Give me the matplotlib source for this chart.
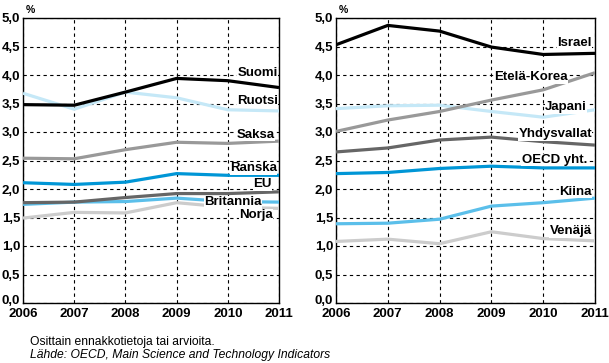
import numpy as np
import matplotlib
matplotlib.use('Agg')
import matplotlib.pyplot as plt
import matplotlib.transforms as mtransforms

plt.rcParams['font.family'] = ['Liberation Sans', 'DejaVu Sans']

years = [2006, 2007, 2008, 2009, 2010, 2011]

# left panel
suomi = [3.48, 3.47, 3.70, 3.94, 3.90, 3.78]
ruotsi = [3.68, 3.40, 3.70, 3.60, 3.39, 3.37]
saksa = [2.54, 2.53, 2.69, 2.82, 2.80, 2.84]
ranska = [2.11, 2.08, 2.12, 2.27, 2.24, 2.24]
eu = [1.76, 1.77, 1.85, 1.92, 1.92, 1.95]
britannia = [1.73, 1.77, 1.78, 1.84, 1.78, 1.77]
norja = [1.49, 1.59, 1.58, 1.76, 1.68, 1.66]

# right panel
israel = [4.53, 4.87, 4.77, 4.49, 4.36, 4.38]
korea = [3.01, 3.21, 3.36, 3.56, 3.74, 4.04]
japani = [3.41, 3.46, 3.47, 3.36, 3.26, 3.39]
usa = [2.65, 2.72, 2.86, 2.91, 2.83, 2.77]
oecd = [2.27, 2.29, 2.36, 2.40, 2.37, 2.37]
kiina = [1.39, 1.40, 1.47, 1.70, 1.76, 1.84]
venaja = [1.08, 1.12, 1.04, 1.25, 1.13, 1.09]

BLACK = '#000000'
LBLUE = '#c5e8f7'
GRAY = '#999999'
BLUE = '#0096d6'
DGRAY = '#666666'
MBLUE = '#5bbfea'
LGRAY = '#cccccc'

# (name, values, colour, label y, label right-edge offset px from axes right)
left_series = [
    ('Ruotsi', ruotsi, LBLUE, 3.54, -1),
    ('Norja', norja, LGRAY, 1.54, -6),
    ('Britannia', britannia, MBLUE, 1.77, -17),
    ('Saksa', saksa, GRAY, 2.95, -4),
    ('EU', eu, DGRAY, 2.08, -7),
    ('Ranska', ranska, BLUE, 2.36, -2),
    ('Suomi', suomi, BLACK, 4.04, -1),
]
right_series = [
    ('Japani', japani, LBLUE, 3.43, -8),
    ('Venäjä', venaja, LGRAY, 1.26, -3),
    ('Etelä-Korea', korea, GRAY, 3.96, -27),
    ('Yhdysvallat', usa, DGRAY, 2.96, -3),
    ('Kiina', kiina, MBLUE, 1.95, -3),
    ('OECD yht.', oecd, BLUE, 2.51, -8),
    ('Israel', israel, BLACK, 4.56, -3),
]

fig = plt.figure(figsize=(6.09, 3.63), dpi=100)
ax1 = fig.add_axes([23 / 609, 1 - 303 / 363, 256 / 609, 285 / 363])
ax2 = fig.add_axes([336 / 609, 1 - 303 / 363, 259 / 609, 285 / 363])

for ax, series in [(ax1, left_series), (ax2, right_series)]:
    for name, vals, col, ly, dx in series:
        ax.plot(years, vals, color=col, lw=2.3, solid_capstyle='butt', zorder=3)
    for name, vals, col, ly, dx in series:
        ax.annotate(name, xy=(1, ly), xycoords=('axes fraction', 'data'),
                    xytext=(dx, 0), textcoords='offset pixels',
                    ha='right', va='center', fontsize=9.5, fontweight='bold',
                    bbox=dict(boxstyle='square,pad=0.03', fc='white', ec='none'),
                    zorder=4)
    ax.set_xlim(2006, 2011)
    ax.set_ylim(0, 5)
    ax.set_xticks(years)
    ax.set_xticklabels([str(y) for y in years], fontsize=9.5, fontweight='bold')
    yt = np.arange(0, 5.01, 0.5)
    ax.set_yticks(yt)
    ax.set_yticklabels([f'{v:.1f}'.replace('.', ',') for v in yt], fontsize=9.5, fontweight='bold')
    ax.tick_params(length=0, pad=2)
    ax.tick_params(axis='x', pad=3.5)
    ax.grid(True, color='black', linestyle=(0, (3, 3)), linewidth=0.8)
    for s in ax.spines.values():
        s.set_linewidth(1.0)
    # nudge the "0,0" label up so it clears the year labels
    lab0 = ax.get_yticklabels()[0]
    lab0.set_transform(lab0.get_transform() +
                       mtransforms.ScaledTranslation(0, 3 / 100, fig.dpi_scale_trans))
    ax.text(0.01, 1.01, '%', transform=ax.transAxes, fontsize=7.5, fontweight='bold',
            ha='left', va='bottom')

fig.text(30 / 609, 1 - 342 / 363, 'Osittain ennakkotietoja tai arvioita.', fontsize=8.7,
         va='center', ha='left')
fig.text(30 / 609, 1 - 355 / 363, 'Lähde: OECD, Main Science and Technology Indicators',
         fontsize=8.7, style='italic', va='center', ha='left')

fig.savefig('out.png', dpi=100)
